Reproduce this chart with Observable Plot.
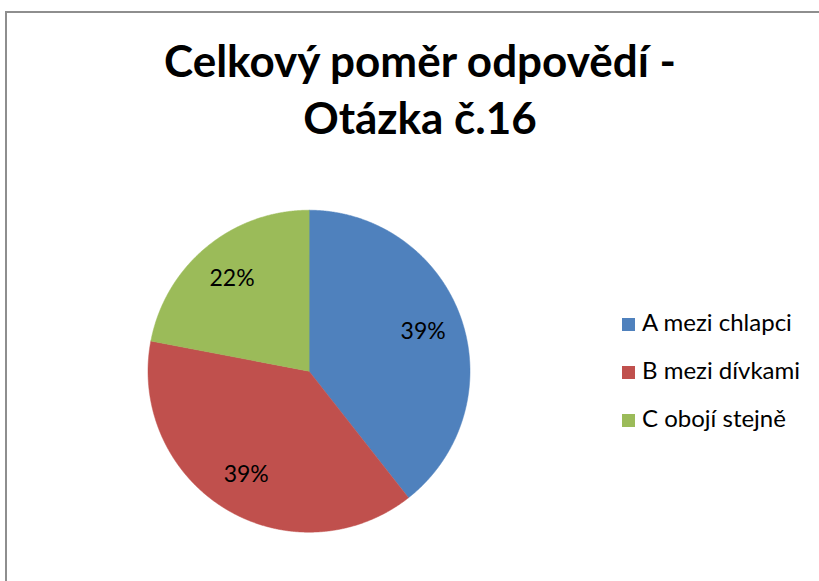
<!DOCTYPE html>
<html>
<head>
<meta charset="utf-8">
<script src="https://cdn.jsdelivr.net/npm/d3@7"></script>
<script src="https://cdn.jsdelivr.net/npm/@observablehq/plot@0.6"></script>
<style>
  body { margin: 0; background: #fff; }
  #wrap { position: relative; width: 819px; height: 581px; overflow: hidden; background: #fff; }
  #frame { position: absolute; left: 5px; top: 11px; width: 900px; height: 700px;
           border-left: 2px solid #8e8e8e; border-top: 2px solid #8e8e8e; }
  .title { position: absolute; left: 0; width: 840px; text-align: center; font-family: Lato, sans-serif;
           font-weight: bold; font-size: 44px; line-height: 44px; color: #000; white-space: nowrap; }
  #chart { position: absolute; left: 0; top: 0; }
  .lg-key { position: absolute; width: 13px; height: 13px; }
  .lg-txt { position: absolute; font-family: Lato, sans-serif; font-size: 24px; line-height: 24px; color: #000; white-space: nowrap; }
</style>
</head>
<body>
<div id="wrap">
  <div id="frame"></div>
  <div class="title" style="top:38px">Celkový poměr odpovědí -</div>
  <div class="title" style="top:95px">Otázka č.16</div>
  <div id="chart"></div>
  <div id="legend"></div>
</div>
<script>
const categories = ["A mezi chlapci", "B mezi dívkami", "C obojí stejně"];
const percents = [39.4, 38.6, 22.0];
const colors = ["#4F81BD", "#C0504D", "#9BBB59"];

const arcs = d3.pie().sort(null)(percents);
const points = [];
const labels = [];
arcs.forEach((a, i) => {
  const cat = categories[i];
  points.push({cat, x: 0, y: 0});
  const n = Math.max(2, Math.ceil((a.endAngle - a.startAngle) / 0.005));
  for (let k = 0; k <= n; k++) {
    const t = a.startAngle + (a.endAngle - a.startAngle) * k / n;
    points.push({cat, x: Math.sin(t), y: Math.cos(t)});
  }
  const m = (a.startAngle + a.endAngle) / 2;
  labels.push({cat, x: 0.75 * Math.sin(m), y: 0.75 * Math.cos(m), text: Math.round(percents[i]) + "%"});
});

const chart = Plot.plot({
  width: 819,
  height: 581,
  margin: 0,
  style: {background: "transparent", overflow: "visible"},
  x: {domain: [-1, 1], range: [147.5, 469.5], axis: null},
  y: {domain: [-1, 1], range: [531.7, 209.7], axis: null},
  color: {domain: categories, range: colors},
  marks: [
    Plot.line(points, {x: "x", y: "y", z: "cat", fill: "cat", stroke: "cat", strokeWidth: 0.5, curve: "linear-closed"}),
    Plot.text(labels, {x: "x", y: "y", text: "text", fill: "#000", fontSize: 23, fontFamily: "Lato, sans-serif"})
  ]
});
document.getElementById("chart").appendChild(chart);

const legend = d3.select("#legend");
categories.forEach((c, i) => {
  const base = 331 + i * 48;
  legend.append("div").attr("class", "lg-key")
    .style("left", "622px").style("top", (base - 13) + "px").style("background", colors[i]);
  legend.append("div").attr("class", "lg-txt")
    .style("left", "642px").style("top", (base - 21.3) + "px").text(c);
});
</script>
</body>
</html>
